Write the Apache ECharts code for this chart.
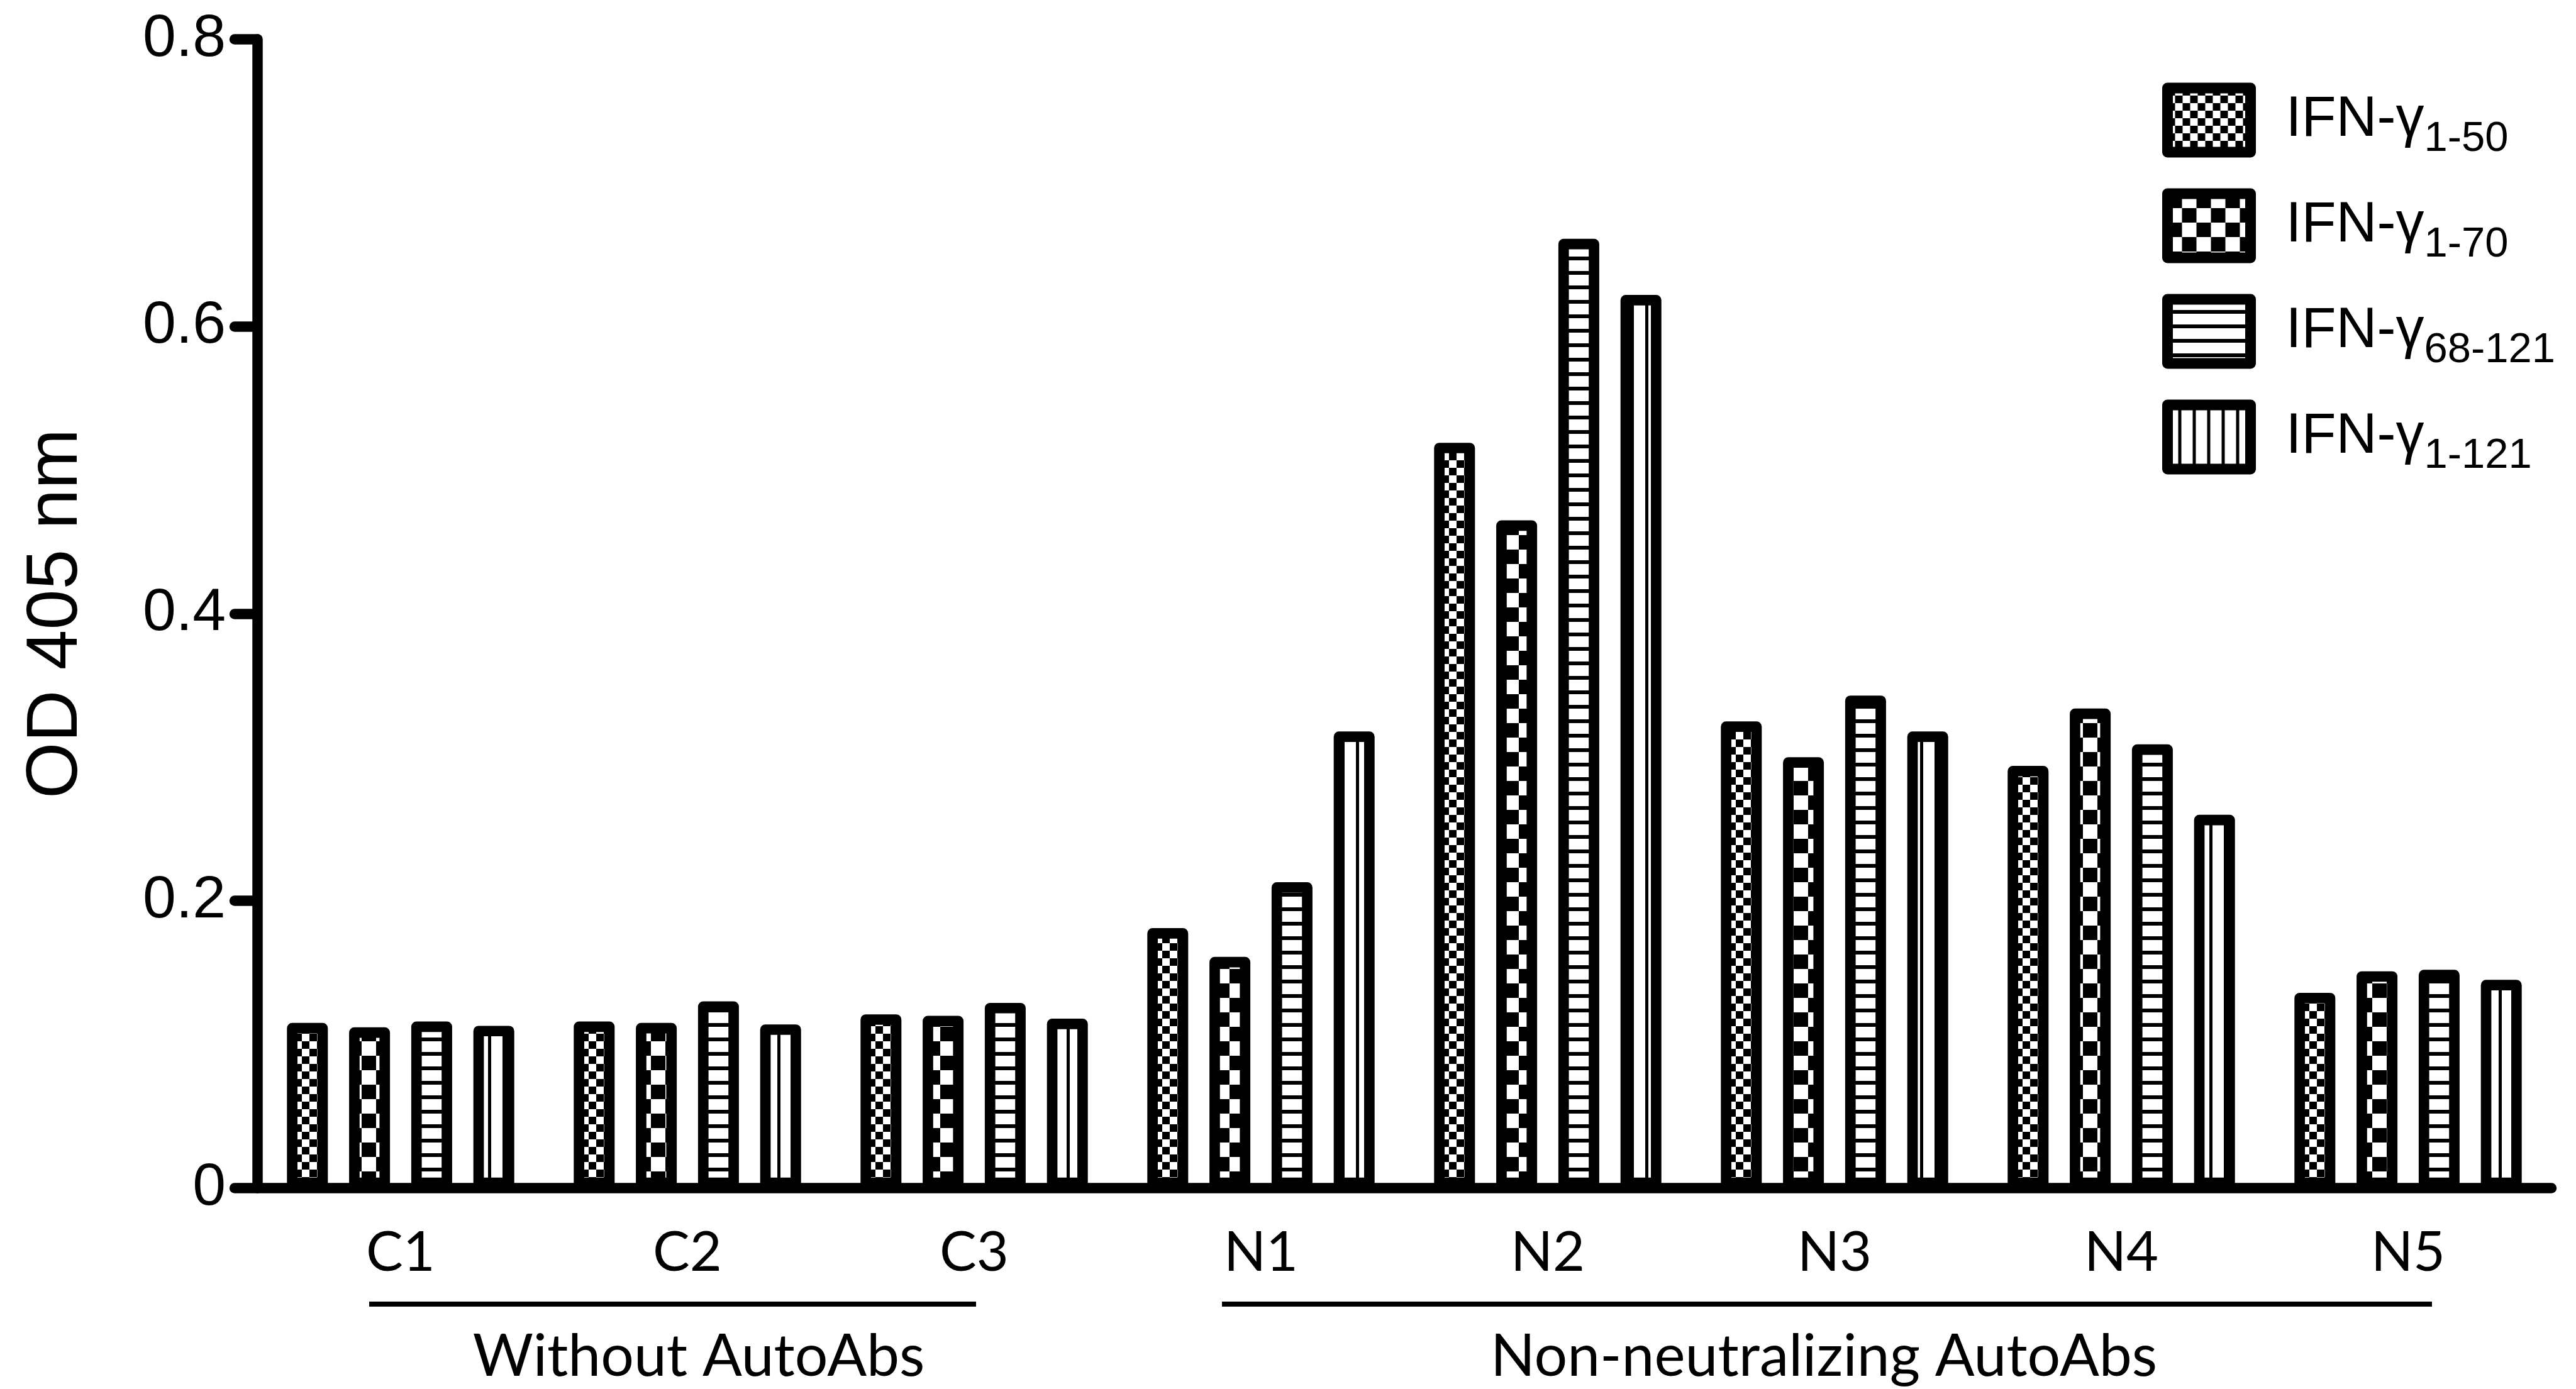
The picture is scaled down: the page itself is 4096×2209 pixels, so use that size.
<!DOCTYPE html>
<html><head><meta charset="utf-8">
<script src="https://cdn.jsdelivr.net/npm/echarts@6/dist/echarts.min.js"></script>
<style>html,body{margin:0;padding:0;background:#fff}#c{width:4096px;height:2209px}</style>
</head><body><div id="c"></div>
<script>
const categories = ['C1', 'C2', 'C3', 'N1', 'N2', 'N3', 'N4', 'N5'];
const seriesNames = ['IFN-γ1-50', 'IFN-γ1-70', 'IFN-γ68-121', 'IFN-γ1-121'];
const seriesBase = 'IFN-γ';
const seriesSubs = ['1-50', '1-70', '68-121', '1-121'];
const ifn1_50   = [0.115, 0.116, 0.121, 0.181, 0.519, 0.325, 0.294, 0.136];
const ifn1_70   = [0.112, 0.115, 0.120, 0.161, 0.465, 0.300, 0.334, 0.151];
const ifn68_121 = [0.116, 0.130, 0.129, 0.213, 0.661, 0.343, 0.309, 0.152];
const ifn1_121  = [0.113, 0.114, 0.118, 0.318, 0.622, 0.318, 0.260, 0.145];
const yAxisName = 'OD 405 nm';
const groupLabels = ['Without AutoAbs', 'Non-neutralizing AutoAbs'];
const groupFrom = ['C1', 'N1'];
const groupMid = ['C2', 'N3'];
const groupTo = ['C3', 'N5'];

// layout constants (pixels)
const groupLinePad = [[-50, 3], [-62, 38]];
const groupTextShift = [18, -17];
const groupLineY = 2074;
const groupTextY = 2158;

function makePattern(kind) {
  const c = document.createElement('canvas');
  const ctx = c.getContext('2d');
  if (kind === 'fine') {
    c.width = 24; c.height = 24;
    ctx.fillStyle = '#fff'; ctx.fillRect(0, 0, 24, 24);
    ctx.fillStyle = '#000'; ctx.fillRect(0, 0, 12, 12); ctx.fillRect(12, 12, 12, 12);
  } else if (kind === 'coarse') {
    c.width = 46; c.height = 46;
    ctx.fillStyle = '#fff'; ctx.fillRect(0, 0, 46, 46);
    ctx.fillStyle = '#000'; ctx.fillRect(0, 0, 23, 23); ctx.fillRect(23, 23, 23, 23);
  } else if (kind === 'hstripe') {
    c.width = 23; c.height = 23;
    ctx.fillStyle = '#fff'; ctx.fillRect(0, 0, 23, 23);
    ctx.fillStyle = '#000'; ctx.fillRect(0, 17, 23, 6);
  } else {
    c.width = 23; c.height = 23;
    ctx.fillStyle = '#fff'; ctx.fillRect(0, 0, 23, 23);
    ctx.fillStyle = '#000'; ctx.fillRect(17, 0, 5, 23);
  }
  return { image: c, repeat: 'repeat' };
}
const patterns = [makePattern('fine'), makePattern('coarse'), makePattern('hstripe'), makePattern('vstripe')];
const seriesData = [ifn1_50, ifn1_70, ifn68_121, ifn1_121];

const chart = echarts.init(document.getElementById('c'), null, { renderer: 'canvas' });
const FONT_A = 'Liberation Sans, Arial, sans-serif';
const FONT_C = 'Lato, sans-serif';

chart.setOption({
  animation: false,
  backgroundColor: '#fff',
  grid: { left: 409, right: 39, top: 62.4, bottom: 319.5, containLabel: false },
  legend: {
    orient: 'vertical', left: 3438, top: 126.5, padding: 0, itemGap: 39,
    itemWidth: 132, itemHeight: 102, icon: 'rect', selectedMode: false,
    itemStyle: { borderWidth: 17, borderColor: '#000' },
    formatter: function (name) {
      const i = seriesNames.indexOf(name);
      return '{a|' + seriesBase + '}{b|' + seriesSubs[i] + '}';
    },
    textStyle: {
      rich: {
        a: { fontFamily: FONT_A, fontSize: 90, lineHeight: 90, verticalAlign: 'top', padding: [0, 0, 0, 51], color: '#000' },
        b: { fontFamily: FONT_A, fontSize: 67, lineHeight: 66, padding: [62, 0, 0, 0], color: '#000' }
      }
    }
  },
  xAxis: {
    type: 'category', data: categories,
    axisLine: { show: true, lineStyle: { color: '#000', width: 16.5 } },
    axisTick: { show: false },
    axisLabel: { margin: 59, fontFamily: FONT_C, fontSize: 88, lineHeight: 88, color: '#000' },
    splitLine: { show: false }
  },
  yAxis: {
    type: 'value', min: 0, max: 0.8, interval: 0.2,
    name: yAxisName, nameLocation: 'middle', nameGap: 319, nameRotate: 90,
    nameTextStyle: { fontFamily: FONT_A, fontSize: 115, color: '#000', verticalAlign: 'middle' },
    axisLine: { show: true, lineStyle: { color: '#000', width: 16.5 } },
    axisTick: { show: true, length: 36, lineStyle: { color: '#000', width: 16.5, cap: 'round' } },
    axisLabel: { margin: 50, fontFamily: FONT_A, fontSize: 95, color: '#000' },
    splitLine: { show: false }
  },
  series: seriesData.map(function (d, i) {
    return {
      name: seriesNames[i], type: 'bar', data: d,
      barWidth: 65, barGap: '52%',
      itemStyle: { color: patterns[i], borderColor: '#000', borderWidth: 16.7, borderJoin: 'round' },
      emphasis: { disabled: true }
    };
  })
});

const gfx = [];
for (let g = 0; g < groupLabels.length; g++) {
  const x1 = chart.convertToPixel({ xAxisIndex: 0 }, groupFrom[g]) + groupLinePad[g][0];
  const x2 = chart.convertToPixel({ xAxisIndex: 0 }, groupTo[g]) + groupLinePad[g][1];
  const xm = chart.convertToPixel({ xAxisIndex: 0 }, groupMid[g]) + groupTextShift[g];
  gfx.push({ type: 'line', shape: { x1: x1, y1: groupLineY, x2: x2, y2: groupLineY }, style: { stroke: '#000', lineWidth: 8 } });
  gfx.push({ type: 'text', x: xm, y: groupTextY, style: { text: groupLabels[g], fill: '#000', font: '93px ' + FONT_C, textAlign: 'center', textVerticalAlign: 'middle' } });
}
chart.setOption({ graphic: gfx });
</script></body></html>
